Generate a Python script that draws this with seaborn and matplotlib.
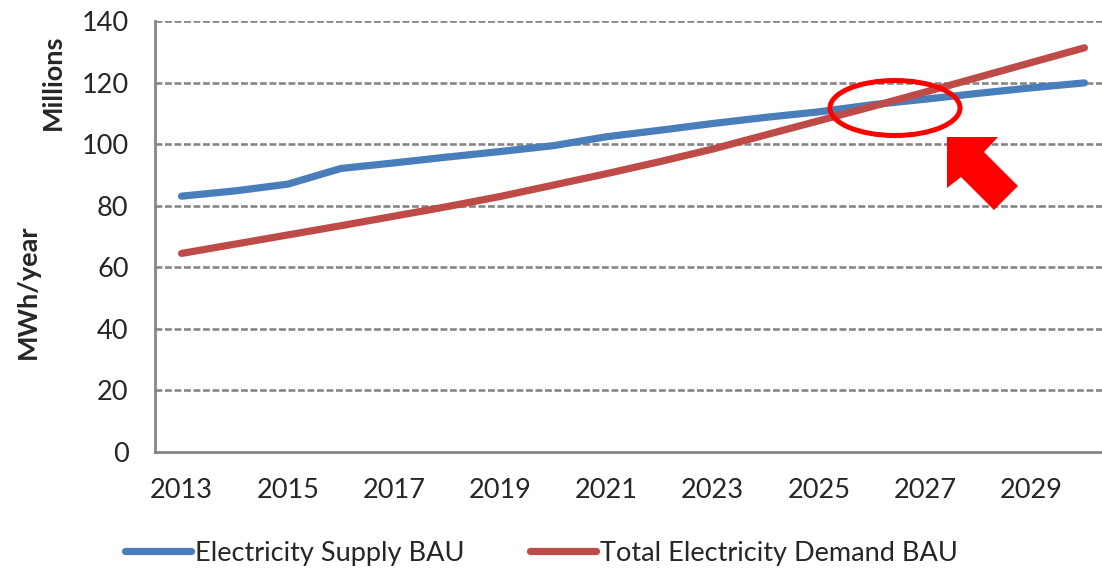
import numpy as np
import pandas as pd
import matplotlib
matplotlib.use("Agg")
import matplotlib.pyplot as plt
import seaborn as sns
from matplotlib.patches import Ellipse, Polygon
from matplotlib.ticker import FixedLocator, NullFormatter

years = list(range(2013, 2031))
supply = [83.1, 84.8, 87.0, 92.1, 93.9, 95.8, 97.6, 99.5, 102.4, 104.5, 106.7,
          108.7, 110.5, 112.8, 114.6, 116.5, 118.3, 119.9]
demand = [64.5, 67.5, 70.5, 73.5, 76.6, 79.7, 83.0, 86.7, 90.4, 94.3, 98.4,
          103.0, 107.6, 112.2, 116.9, 121.7, 126.5, 131.3]
series_names = ["Electricity Supply BAU", "Total Electricity Demand BAU"]
series_colors = ["#4A7EBB", "#BE4B48"]
y_ticks = [0, 20, 40, 60, 80, 100, 120, 140]
x_label_years = [2013, 2015, 2017, 2019, 2021, 2023, 2025, 2027, 2029]

sns.set_style("white")
plt.rcParams["font.family"] = ["Lato", "DejaVu Sans"]

df = pd.DataFrame({
    "idx": list(range(len(years))) * 2,
    "value": supply + demand,
    "series": [series_names[0]] * len(years) + [series_names[1]] * len(years),
})

W, H = 1102, 571
fig = plt.figure(figsize=(W / 100, H / 100), dpi=100)
ax = fig.add_axes([155 / W, (H - 452) / H, (1111 - 155) / W, 431 / H])

sns.lineplot(data=df, x="idx", y="value", hue="series", palette=series_colors,
             linewidth=5.2, ax=ax, legend=True, solid_capstyle="round")
handles, labels = ax.get_legend_handles_labels()
ax.get_legend().remove()

grid_c = "#868686"
ax.set_xlim(-0.5, len(years) - 0.5)
ax.set_ylim(0, 140)
ax.set_yticks(y_ticks)
ax.set_yticklabels([str(v) for v in y_ticks])
for v in y_ticks[1:]:
    ax.axhline(v, color=grid_c, lw=1.9, ls=(0, (2.6, 1.0)), zorder=0)

ax.xaxis.set_major_locator(FixedLocator(np.arange(-0.5, len(years), 1.0)))
ax.xaxis.set_major_formatter(NullFormatter())
minor_pos = [years.index(y) for y in x_label_years]
ax.xaxis.set_minor_locator(FixedLocator(minor_pos))
ax.set_xticklabels([str(y) for y in x_label_years], minor=True)
ax.tick_params(axis="x", which="major", length=7, width=1.8, color=grid_c, direction="out")
ax.tick_params(axis="x", which="minor", length=0, pad=19, labelsize=19.5)
ax.tick_params(axis="y", length=7, width=1.8, color=grid_c, direction="out", pad=12, labelsize=19.5)
ax.set_xlabel("")
ax.set_ylabel("")
for s in ["top", "right"]:
    ax.spines[s].set_visible(False)
for s in ["left", "bottom"]:
    ax.spines[s].set_color(grid_c)
    ax.spines[s].set_linewidth(2.0)

fig.text(53 / W, 1 - 82 / H, "Millions", rotation=90, ha="center", va="center",
         fontsize=19.5, fontweight="bold")
fig.text(28 / W, 1 - 292 / H, "MWh/year", rotation=90, ha="center", va="center",
         fontsize=19.5, fontweight="bold")

fig.legend(handles, labels, loc="center left", bbox_to_anchor=(125 / W, 1 - 553 / H),
           ncol=2, frameon=False, fontsize=19.5, handlelength=2.45, handletextpad=0.15,
           columnspacing=2.4, borderpad=0, borderaxespad=0)

# annotation: ellipse and arrow (figure pixel coords)
px = lambda x, y: (x / 100, (H - y) / 100)
ell = Ellipse(px(895, 108), 130 / 100, 55 / 100, fill=False, edgecolor="#FF0000",
              linewidth=3.6, transform=fig.dpi_scale_trans)
fig.add_artist(ell)
arrow_pts = [px(947, 137), px(998, 137), px(984, 152), px(1018, 186),
             px(994, 210), px(961, 177), px(947, 188)]
fig.add_artist(Polygon(arrow_pts, closed=True, facecolor="#FF0000", edgecolor="none",
                       transform=fig.dpi_scale_trans))

fig.savefig("out.png", dpi=100)
